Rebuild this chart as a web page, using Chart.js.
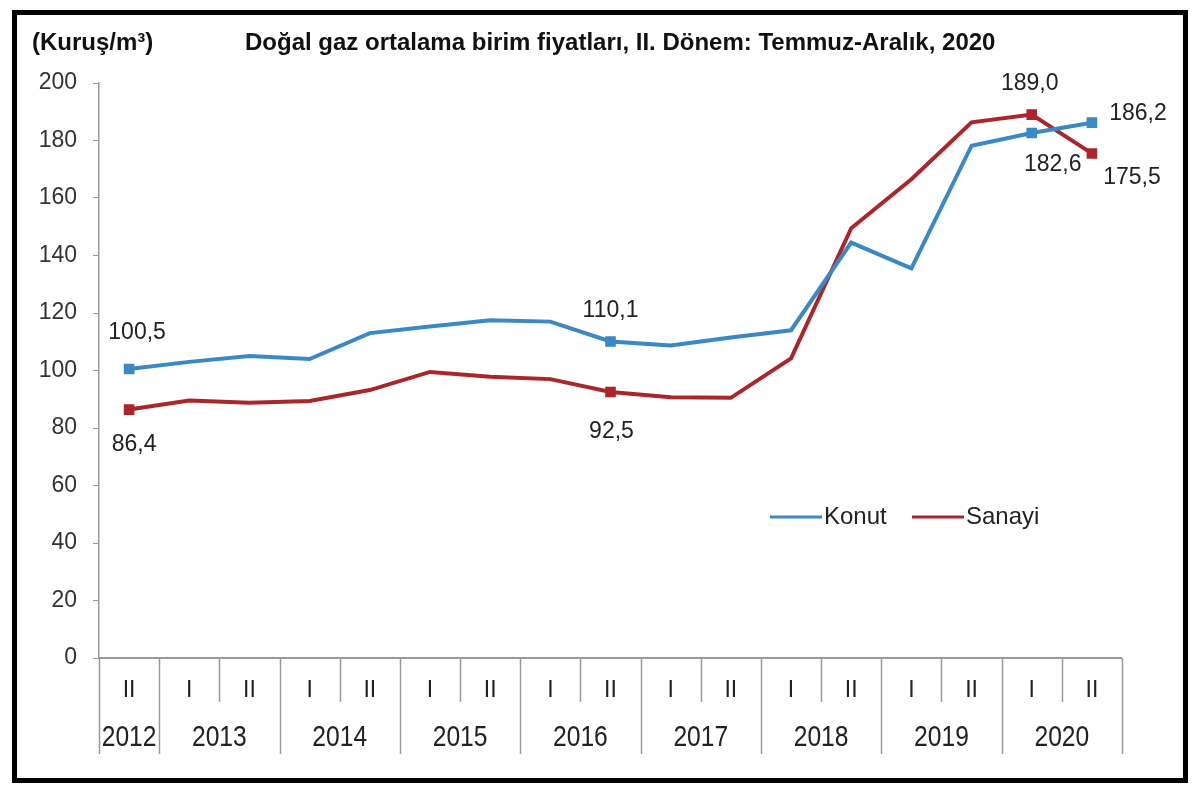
<!DOCTYPE html>
<html>
<head>
  <title>Doğal gaz ortalama birim fiyatları</title>
  <style>
    body { margin: 0; background: #fff; }
  </style>
</head>
<body>
  <canvas id="myChart" width="1200" height="802"></canvas>

  <script src="https://cdn.jsdelivr.net/npm/chart.js"></script>
  <script>
    // data
    var periods = ['II', 'I', 'II', 'I', 'II', 'I', 'II', 'I', 'II', 'I', 'II', 'I', 'II', 'I', 'II', 'I', 'II'];
    var years = ['2012', '2013', '2013', '2014', '2014', '2015', '2015', '2016', '2016',
                 '2017', '2017', '2018', '2018', '2019', '2019', '2020', '2020'];
    var konut = [100.5, 103.0, 105.0, 104.0, 113.0, 115.3, 117.5, 117.0, 110.1,
                 108.7, 111.5, 114.0, 144.5, 135.5, 178.2, 182.6, 186.2];
    var sanayi = [86.4, 89.6, 88.8, 89.4, 93.2, 99.5, 97.8, 97.0, 92.5,
                  90.7, 90.5, 104.2, 149.5, 166.5, 186.3, 189.0, 175.5];

    var titleText = 'Doğal gaz ortalama birim fiyatları, II. Dönem: Temmuz-Aralık, 2020';
    var unitText = '(Kuruş/m³)';

    // which points get a marker + value label, and where the label sits (dx, dy from point)
    var labelSpots = [
      { 0: [8, -36], 8: [0, -31], 15: [21, 32], 16: [46, -9] },
      { 0: [5, 35], 8: [1, 40], 15: [-2, -31], 16: [40, 24] }
    ];

    var FONT = "'Liberation Sans', Arial, sans-serif";
    var blue = '#3a88c4';
    var red = '#ab262b';

    function markerSizes(spots) {
      return periods.map(function (p, i) { return spots[i] ? 7.5 : 0; });
    }

    var decor = {
      id: 'decor',
      afterDraw: function (chart) {
        var ctx = chart.ctx;
        var area = chart.chartArea;
        var x = chart.scales.x;
        ctx.save();

        // outer frame
        ctx.strokeStyle = '#000';
        ctx.lineWidth = 5;
        ctx.strokeRect(14.5, 12.5, 1171, 768);

        // titles
        ctx.fillStyle = '#111';
        ctx.textBaseline = 'middle';
        ctx.textAlign = 'left';
        ctx.font = 'bold 24px ' + FONT;
        ctx.fillText(unitText, 32, 43);
        ctx.fillText(titleText, 245, 43);

        // x axis line + category separators
        var step = (area.right - area.left) / periods.length;
        ctx.strokeStyle = '#9a9a9a';
        ctx.lineWidth = 2;
        ctx.beginPath();
        ctx.moveTo(area.left, area.bottom);
        ctx.lineTo(area.right, area.bottom);
        ctx.stroke();
        ctx.lineWidth = 1.5;
        for (var b = 0; b <= periods.length; b++) {
          var bx = Math.round(area.left + b * step) + 0.5;
          var full = b === 0 || b === periods.length || years[b] !== years[b - 1];
          ctx.beginPath();
          ctx.moveTo(bx, area.bottom);
          ctx.lineTo(bx, full ? area.bottom + 96 : area.bottom + 44);
          ctx.stroke();
        }

        // period and year labels
        ctx.fillStyle = '#222';
        ctx.textAlign = 'center';
        ctx.font = '23px ' + FONT;
        for (var i = 0; i < periods.length; i++) {
          ctx.fillText(periods[i], x.getPixelForValue(i), area.bottom + 33);
        }
        ctx.font = '30px ' + FONT;
        var s = 0;
        for (var j = 1; j <= years.length; j++) {
          if (j === years.length || years[j] !== years[s]) {
            var cx = (x.getPixelForValue(s) + x.getPixelForValue(j - 1)) / 2;
            ctx.save();
            ctx.translate(cx, area.bottom + 80);
            ctx.scale(0.82, 1);
            ctx.fillText(years[s], 0, 0);
            ctx.restore();
            s = j;
          }
        }

        // legend
        ctx.font = '24px ' + FONT;
        var lx = [770, 912];
        chart.data.datasets.forEach(function (ds, k) {
          ctx.strokeStyle = ds.borderColor;
          ctx.lineWidth = 3;
          ctx.beginPath();
          ctx.moveTo(lx[k], 517);
          ctx.lineTo(lx[k] + 52, 517);
          ctx.stroke();
          ctx.fillStyle = '#222';
          ctx.textAlign = 'left';
          ctx.fillText(ds.label, lx[k] + 54, 517);
        });

        // value labels
        ctx.font = '23px ' + FONT;
        ctx.textAlign = 'center';
        ctx.fillStyle = '#222';
        chart.data.datasets.forEach(function (ds, k) {
          var meta = chart.getDatasetMeta(k);
          var spots = labelSpots[k];
          Object.keys(spots).forEach(function (idx) {
            var pt = meta.data[idx];
            var txt = ds.data[idx].toFixed(1).replace('.', ',');
            ctx.fillText(txt, pt.x + spots[idx][0], pt.y + spots[idx][1]);
          });
        });

        ctx.restore();
      }
    };

    var ctx = document.getElementById('myChart').getContext('2d');
    var chart = new Chart(ctx, {
      type: 'line',
      data: {
        labels: periods.map(function (p, i) { return years[i] + ' ' + p; }),
        datasets: [{
          label: 'Konut',
          data: konut,
          borderColor: blue,
          backgroundColor: blue,
          borderWidth: 4,
          tension: 0,
          pointStyle: 'rect',
          pointRadius: markerSizes(labelSpots[0]),
          pointBorderWidth: 0
        }, {
          label: 'Sanayi',
          data: sanayi,
          borderColor: red,
          backgroundColor: red,
          borderWidth: 4,
          tension: 0,
          pointStyle: 'rect',
          pointRadius: markerSizes(labelSpots[1]),
          pointBorderWidth: 0
        }]
      },
      options: {
        responsive: false,
        animation: false,
        layout: { padding: { top: 83, right: 78, bottom: 144, left: 0 } },
        scales: {
          x: { display: false, offset: true },
          y: {
            min: 0,
            max: 200,
            ticks: { stepSize: 20, color: '#333', font: { family: FONT, size: 23 }, padding: 16 },
            grid: { drawOnChartArea: false, tickLength: 6, color: '#9a9a9a' },
            border: { color: '#9a9a9a', width: 1.5 },
            afterFit: function (scale) { scale.width = 99; }
          }
        },
        plugins: {
          legend: { display: false },
          tooltip: { enabled: false }
        }
      },
      plugins: [decor]
    });
  </script>
</body>
</html>
